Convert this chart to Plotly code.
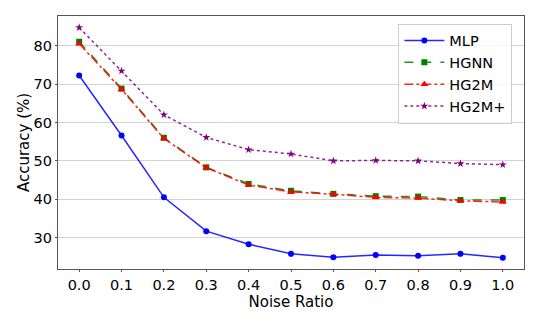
import plotly.graph_objects as go

noise = [0.0, 0.1, 0.2, 0.3, 0.4, 0.5, 0.6, 0.7, 0.8, 0.9, 1.0]
mlp = [72.2, 56.6, 40.5, 31.7, 28.3, 25.8, 24.9, 25.5, 25.3, 25.8, 24.8]
hgnn = [81.0, 68.8, 56.0, 48.3, 44.0, 42.2, 41.4, 40.8, 40.7, 39.8, 39.8]
hg2m = [80.5, 68.6, 55.8, 48.2, 43.7, 41.9, 41.3, 40.5, 40.3, 39.6, 39.3]
hg2m_plus = [84.7, 73.4, 62.0, 56.1, 52.9, 51.8, 50.0, 50.1, 50.0, 49.3, 49.0]
tick_labels = ["0.0", "0.1", "0.2", "0.3", "0.4", "0.5", "0.6", "0.7", "0.8", "0.9", "1.0"]

fig = go.Figure()
fig.add_trace(go.Scatter(x=noise, y=mlp, name="MLP", mode="lines+markers",
                         line=dict(color="rgba(0,0,255,0.85)", width=1.5),
                         marker=dict(symbol="circle", size=6, color="blue")))
fig.add_trace(go.Scatter(x=noise, y=hgnn, name="HGNN", mode="lines+markers",
                         line=dict(color="rgba(0,128,0,0.85)", width=1.5, dash="dash"),
                         marker=dict(symbol="square", size=6, color="green")))
fig.add_trace(go.Scatter(x=noise, y=hg2m, name="HG2M", mode="lines+markers",
                         line=dict(color="rgba(255,0,0,0.85)", width=1.5, dash="dashdot"),
                         marker=dict(symbol="triangle-up", size=7, color="red")))
fig.add_trace(go.Scatter(x=noise, y=hg2m_plus, name="HG2M+", mode="lines+markers",
                         line=dict(color="rgba(128,0,128,0.85)", width=1.5, dash="dot"),
                         marker=dict(symbol="star", size=6, color="purple")))

# page body adds an 8px offset, so the figure is a bit smaller than the window
font = "DejaVu Sans"
fig.update_layout(
    width=532, height=316,
    margin=dict(l=50, r=16, t=8, b=55),
    paper_bgcolor="white", plot_bgcolor="white",
    font=dict(family=font, size=15, color="black"),
    legend=dict(x=0.975, y=0.97, xanchor="right", yanchor="top",
                bgcolor="rgba(255,255,255,0.8)", bordercolor="#cccccc", borderwidth=1,
                font=dict(size=14.5), itemwidth=40, tracegroupgap=0),
    xaxis=dict(title=dict(text="Noise Ratio", standoff=0, font=dict(size=15)), range=[-0.05, 1.05],
               tickvals=noise, ticktext=tick_labels, showgrid=False, automargin=False,
               tickfont=dict(size=14.5),
               showline=True, linecolor="#555555", linewidth=1.2, mirror=True,
               ticks="outside", ticklen=2, tickcolor="#555555", zeroline=False),
    yaxis=dict(title=dict(text="Accuracy (%)", standoff=0, font=dict(size=15)), range=[21.85, 87.7],
               tickvals=[30, 40, 50, 60, 70, 80], showgrid=True, gridcolor="#d3d3d3",
               tickfont=dict(size=14.5), automargin=False,
               gridwidth=1.2, showline=True, linecolor="#555555", linewidth=1.2, mirror=True,
               ticks="outside", ticklen=2, tickcolor="#555555", zeroline=False),
)

fig.write_html("out.html")
